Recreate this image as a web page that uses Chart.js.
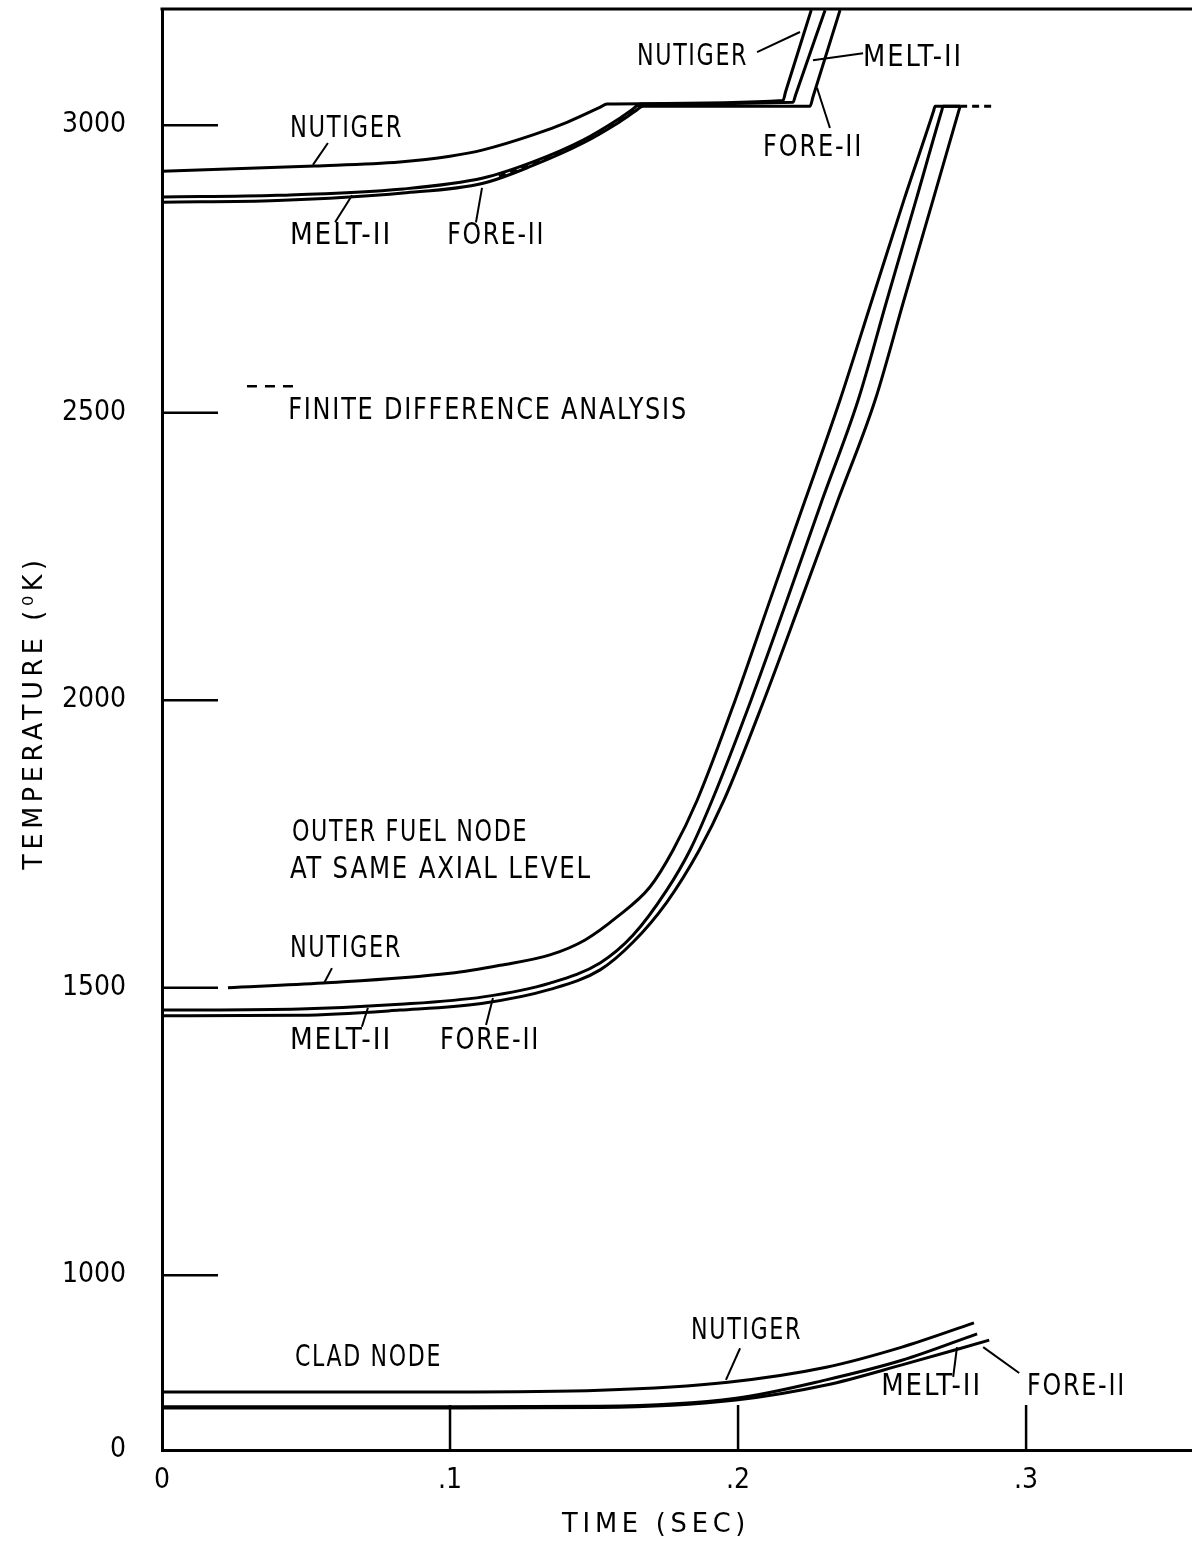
<!DOCTYPE html>
<html>
<head>
<meta charset="utf-8">
<title>Temperature vs time</title>
<script src="https://cdn.jsdelivr.net/npm/chart.js@4.4.1/dist/chart.umd.min.js"></script>
<style>
    html, body { margin: 0; padding: 0; background: #fff; }
    #wrap { width: 1192px; height: 1543px; }
</style>
</head>
<body>
<div id="wrap"><canvas id="chart" width="1192" height="1543"></canvas></div>
<script>
// Axis ticks (the bottom of the y axis is a broken axis labelled "0")
const xTickValues = [0, 0.1, 0.2, 0.3];
const xTickLabels = ['0', '.1', '.2', '.3'];
const yTickValues = [696, 1000, 1500, 2000, 2500, 3000];
const yTickLabels = ['0', '1000', '1500', '2000', '2500', '3000'];
const xMax = 0.3576;
const yMin = 696;
const yMax = 3202;

// Upper curves (top of the plot)
const upperNutigerTime = [0, 0.053, 0.0826, 0.1, 0.1115, 0.1288, 0.1406, 0.152, 0.1545, 0.2156, 0.2165, 0.2254];
const upperNutigerTemp = [2920, 2929, 2936, 2946, 2957, 2983, 3005, 3031, 3037, 3043, 3058, 3200];
const upperMeltTime = [0, 0.04, 0.0837, 0.1115, 0.1288, 0.1462, 0.158, 0.1635, 0.166, 0.2191, 0.22, 0.2302];
const upperMeltTemp = [2875, 2878, 2889, 2908, 2936, 2974, 3009, 3028, 3037, 3040, 3053, 3200];
const upperForeTime = [0, 0.04, 0.0837, 0.1115, 0.1288, 0.1462, 0.158, 0.1645, 0.167, 0.225, 0.226, 0.2354];
const upperForeTemp = [2866, 2869, 2882, 2899, 2930, 2969, 3003, 3025, 3033, 3033, 3049, 3200];

// Outer fuel node at same axial level
const outerNutigerTime = [0.0229, 0.0559, 0.1, 0.1174, 0.1347, 0.1469, 0.158, 0.1694, 0.1774, 0.1858, 0.199, 0.2111, 0.2233, 0.2354, 0.2465, 0.2576, 0.2679, 0.2684, 0.2771];
const outerNutigerTemp = [1500, 1508, 1525, 1539, 1557, 1583, 1623, 1675, 1739, 1826, 2000, 2174, 2348, 2522, 2696, 2870, 3025, 3033, 3033];
const outerMeltTime = [0, 0.0479, 0.0826, 0.1115, 0.1347, 0.1521, 0.1635, 0.1753, 0.1833, 0.191, 0.2045, 0.217, 0.2292, 0.2417, 0.2517, 0.2618, 0.2707, 0.2712, 0.2771];
const outerMeltTemp = [1461, 1463, 1471, 1484, 1508, 1543, 1591, 1670, 1739, 1826, 2000, 2174, 2348, 2522, 2696, 2870, 3025, 3033, 3033];
const outerForeTime = [0, 0.0479, 0.0826, 0.1115, 0.1347, 0.1521, 0.1635, 0.1753, 0.1865, 0.1951, 0.209, 0.2219, 0.2347, 0.2476, 0.2576, 0.2677, 0.2771];
const outerForeTemp = [1451, 1452, 1461, 1473, 1497, 1531, 1579, 1649, 1739, 1826, 2000, 2174, 2348, 2522, 2696, 2870, 3033];

// Clad node
const cladNutigerTime = [0, 0.1, 0.1521, 0.1965, 0.2306, 0.2569, 0.2819];
const cladNutigerTemp = [797, 797, 800, 814, 840, 875, 917];
const cladMeltTime = [0, 0.1, 0.1521, 0.1993, 0.2306, 0.2569, 0.283];
const cladMeltTemp = [771, 771, 772, 786, 818, 852, 898];
const cladForeTime = [0, 0.1, 0.1521, 0.1993, 0.2306, 0.2569, 0.2872];
const cladForeTemp = [769, 769, 770, 783, 809, 844, 887];

// Finite difference analysis (dashed), null splits the two pieces
const finiteDiffTime = [0.117, 0.1288, 0.1462, 0.158, 0.1665, null, 0.2771, 0.2892];
const finiteDiffTemp = [2911, 2933, 2971, 3006, 3035, null, 3033, 3033];

// Text labels, anchored in data units: left edge t, right edge t2, middle T
const curveLabels = [
    { text: 'NUTIGER', t: 0.0444, t2: 0.0837, T: 2993 },
    { text: 'MELT-II', t: 0.0444, t2: 0.0799, T: 2807 },
    { text: 'FORE-II', t: 0.099, t2: 0.133, T: 2807 },
    { text: 'NUTIGER', t: 0.1649, t2: 0.2035, T: 3118 },
    { text: 'MELT-II', t: 0.2434, t2: 0.2781, T: 3117 },
    { text: 'FORE-II', t: 0.2087, t2: 0.2434, T: 2960 },
    { text: 'FINITE DIFFERENCE ANALYSIS', t: 0.0438, t2: 0.1826, T: 2503 },
    { text: 'OUTER FUEL NODE', t: 0.0451, t2: 0.1271, T: 1769 },
    { text: 'AT SAME AXIAL LEVEL', t: 0.0444, t2: 0.1493, T: 1705 },
    { text: 'NUTIGER', t: 0.0444, t2: 0.0833, T: 1567 },
    { text: 'MELT-II', t: 0.0444, t2: 0.0799, T: 1407 },
    { text: 'FORE-II', t: 0.0965, t2: 0.1313, T: 1407 },
    { text: 'CLAD NODE', t: 0.0462, t2: 0.0972, T: 856 },
    { text: 'NUTIGER', t: 0.1837, t2: 0.2222, T: 903 },
    { text: 'MELT-II', t: 0.2497, t2: 0.2847, T: 805 },
    { text: 'FORE-II', t: 0.3003, t2: 0.3347, T: 805 }
];

// Leader lines from labels to curves: [t1, T1, t2, T2]
const leaderLines = [
    [0.0576, 2969, 0.0524, 2931],
    [0.066, 2878, 0.0601, 2831],
    [0.1111, 2891, 0.109, 2831],
    [0.2066, 3127, 0.2215, 3162],
    [0.226, 3113, 0.2434, 3125],
    [0.2274, 3065, 0.2319, 2995],
    [0.059, 1534, 0.0563, 1508],
    [0.0715, 1465, 0.0694, 1432],
    [0.1149, 1482, 0.1125, 1435],
    [0.2007, 873, 0.1958, 818],
    [0.276, 875, 0.2747, 823],
    [0.2851, 875, 0.2976, 830]
];

// legend dash for finite difference analysis
const legendDash = [0.0295, 2546, 0.0455, 2546];

// axis titles, with the span they cover along their axis (data units)
const yTitle = { text: 'TEMPERATURE (\u2070K)', from: 1705, to: 2252 };
const xTitle = { text: 'TIME (SEC)', from: 0.1389, to: 0.2042 };

const labelFont = '30px "DejaVu Sans Condensed", "DejaVu Sans", sans-serif';
const titleFont = '27px "DejaVu Sans", sans-serif';

function toPoints(times, temps) {
    return times.map((t, i) => ({ x: t, y: temps[i] }));
}

function makeSeries(label, times, temps, dashed) {
    return {
        label: label,
        data: toPoints(times, temps),
        borderColor: '#000',
        borderWidth: 3,
        borderDash: dashed ? [7, 5] : [],
        pointRadius: 0,
        fill: false,
        cubicInterpolationMode: 'monotone',
        spanGaps: false
    };
}

// Draw text squeezed or stretched so that it fills the given width
function fitText(ctx, text, cx, cy, width) {
    const w = ctx.measureText(text).width;
    ctx.save();
    ctx.translate(cx, cy);
    ctx.scale(width / w, 1);
    ctx.fillText(text, 0, 0);
    ctx.restore();
}

// Draws frame top, inward ticks, leaders, curve labels and axis titles
const overlayPlugin = {
    id: 'overlay',
    afterDatasetsDraw(chart) {
        const ctx = chart.ctx;
        const x = chart.scales.x;
        const y = chart.scales.y;
        const area = chart.chartArea;

        ctx.save();
        ctx.strokeStyle = '#000';
        ctx.lineCap = 'butt';

        // top of frame
        ctx.lineWidth = 3;
        ctx.beginPath();
        ctx.moveTo(area.left - 1.5, area.top);
        ctx.lineTo(area.right, area.top);
        ctx.stroke();

        // Tick marks drawn inside the plot
        ctx.lineWidth = 2.5;
        yTickValues.slice(1).forEach(v => {
            const py = y.getPixelForValue(v);
            ctx.beginPath();
            ctx.moveTo(area.left, py);
            ctx.lineTo(area.left + 56, py);
            ctx.stroke();
        });
        xTickValues.slice(1).forEach(v => {
            const px = x.getPixelForValue(v);
            ctx.beginPath();
            ctx.moveTo(px, area.bottom);
            ctx.lineTo(px, area.bottom - 45);
            ctx.stroke();
        });

        // Leader lines
        ctx.lineWidth = 2;
        leaderLines.forEach(l => {
            ctx.beginPath();
            ctx.moveTo(x.getPixelForValue(l[0]), y.getPixelForValue(l[1]));
            ctx.lineTo(x.getPixelForValue(l[2]), y.getPixelForValue(l[3]));
            ctx.stroke();
        });

        // Legend dashes
        ctx.lineWidth = 2.5;
        ctx.setLineDash([10, 8]);
        ctx.beginPath();
        ctx.moveTo(x.getPixelForValue(legendDash[0]), y.getPixelForValue(legendDash[1]));
        ctx.lineTo(x.getPixelForValue(legendDash[2]), y.getPixelForValue(legendDash[3]));
        ctx.stroke();
        ctx.setLineDash([]);

        // Curve labels
        ctx.fillStyle = '#000';
        ctx.font = labelFont;
        ctx.letterSpacing = '2px';
        ctx.textAlign = 'left';
        ctx.textBaseline = 'middle';
        curveLabels.forEach(lbl => {
            const left = x.getPixelForValue(lbl.t);
            const right = x.getPixelForValue(lbl.t2);
            fitText(ctx, lbl.text, left, y.getPixelForValue(lbl.T), right - left);
        });
        ctx.restore();
    },
    afterDraw(chart) {
        const ctx = chart.ctx;
        const x = chart.scales.x;
        const y = chart.scales.y;
        const area = chart.chartArea;
        ctx.save();
        ctx.fillStyle = '#000';
        ctx.font = titleFont;
        ctx.letterSpacing = '5px';
        ctx.textAlign = 'left';
        ctx.textBaseline = 'middle';

        // y axis title
        const yTop = y.getPixelForValue(yTitle.to);
        const yBottom = y.getPixelForValue(yTitle.from);
        ctx.save();
        ctx.translate(35, yBottom);
        ctx.rotate(-Math.PI / 2);
        fitText(ctx, yTitle.text, 0, 0, yBottom - yTop);
        ctx.restore();

        // x axis title
        const xLeft = x.getPixelForValue(xTitle.from);
        const xRight = x.getPixelForValue(xTitle.to);
        fitText(ctx, xTitle.text, xLeft, area.bottom + 75, xRight - xLeft);
        ctx.restore();
    }
};

document.addEventListener('DOMContentLoaded', function() {
    const ctx = document.getElementById('chart').getContext('2d');

    const tickFont = { family: '"DejaVu Sans Condensed", "DejaVu Sans", sans-serif', size: 28 };

    new Chart(ctx, {
        type: 'line',
        data: {
            datasets: [
                makeSeries('NUTIGER (upper)', upperNutigerTime, upperNutigerTemp),
                makeSeries('MELT-II (upper)', upperMeltTime, upperMeltTemp),
                makeSeries('FORE-II (upper)', upperForeTime, upperForeTemp),
                makeSeries('NUTIGER (outer fuel)', outerNutigerTime, outerNutigerTemp),
                makeSeries('MELT-II (outer fuel)', outerMeltTime, outerMeltTemp),
                makeSeries('FORE-II (outer fuel)', outerForeTime, outerForeTemp),
                makeSeries('NUTIGER (clad)', cladNutigerTime, cladNutigerTemp),
                makeSeries('MELT-II (clad)', cladMeltTime, cladMeltTemp),
                makeSeries('FORE-II (clad)', cladForeTime, cladForeTemp),
                makeSeries('Finite difference analysis', finiteDiffTime, finiteDiffTemp, true)
            ]
        },
        options: {
            responsive: false,
            animation: false,
            layout: { padding: { top: 9, left: 0, right: 0, bottom: 0 } },
            plugins: {
                legend: { display: false },
                tooltip: { enabled: false },
                title: { display: false }
            },
            scales: {
                x: {
                    type: 'linear',
                    position: 'bottom',
                    min: 0,
                    max: xMax,
                    afterBuildTicks: scale => {
                        scale.ticks = xTickValues.map(v => ({ value: v }));
                    },
                    afterFit: scale => {
                        scale.height = 93;
                        scale.paddingLeft = 0;
                        scale.paddingRight = 0;
                    },
                    grid: { display: false, drawTicks: false },
                    border: { display: true, color: '#000', width: 3 },
                    ticks: {
                        color: '#000',
                        font: tickFont,
                        padding: 14,
                        maxRotation: 0,
                        callback: (value, index) => xTickLabels[index]
                    }
                },
                y: {
                    type: 'linear',
                    min: yMin,
                    max: yMax,
                    afterBuildTicks: scale => {
                        scale.ticks = yTickValues.map(v => ({ value: v }));
                    },
                    afterFit: scale => {
                        scale.width = 162;
                        scale.paddingTop = 0;
                        scale.paddingBottom = 0;
                    },
                    grid: { display: false, drawTicks: false },
                    border: { display: true, color: '#000', width: 3 },
                    ticks: {
                        color: '#000',
                        font: tickFont,
                        padding: 36,
                        callback: (value, index) => yTickLabels[index]
                    }
                }
            }
        },
        plugins: [overlayPlugin]
    });
});
</script>
</body>
</html>
